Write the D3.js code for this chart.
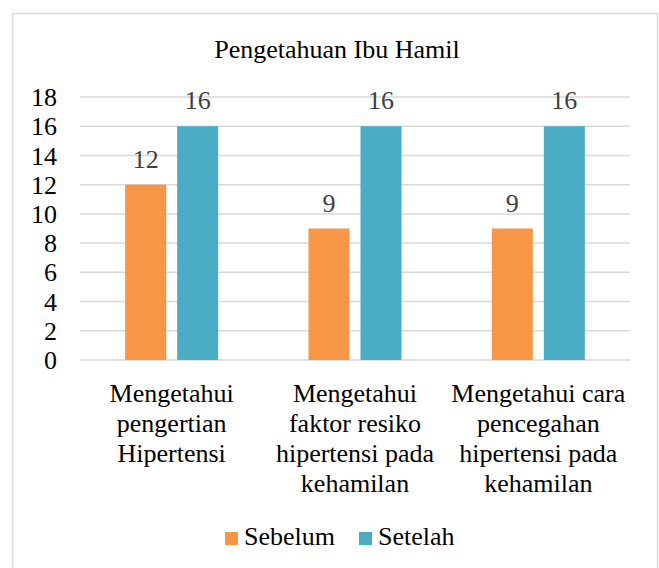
<!DOCTYPE html>
<html>
<head>
<meta charset="utf-8">
<script src="https://cdn.jsdelivr.net/npm/d3@7"></script>
</head>
<body style="margin:0">
<svg id="chart" width="659" height="568" font-family="Liberation Serif, Times New Roman, serif"></svg>
<script>
// data
const categories = [
  ["Mengetahui", "pengertian", "Hipertensi"],
  ["Mengetahui", "faktor resiko", "hipertensi pada", "kehamilan"],
  ["Mengetahui cara", "pencegahan", "hipertensi pada", "kehamilan"]
];
const seriesNames = ["Sebelum", "Setelah"];
const sebelum = [12, 9, 9];
const setelah = [16, 16, 16];
const yTicks = [0, 2, 4, 6, 8, 10, 12, 14, 16, 18];
const colors = ["#F79646", "#4BACC6"];

const FONT = "Liberation Serif, Times New Roman, serif";
const FS = "26px";

const W = 659, H = 568;
const margins = {top: 97, right: 29, bottom: 208, left: 80};
const width = W - margins.left - margins.right;
const height = H - margins.top - margins.bottom;

const svg = d3.select("#chart");

// outer chart border
svg.append("rect")
  .attr("x", 12.5).attr("y", 13.5)
  .attr("width", 645).attr("height", 570)
  .attr("fill", "none")
  .attr("stroke", "#d9d9d9")
  .attr("stroke-width", 1.5);

svg.append("text")
  .attr("x", 337)
  .attr("y", 58)
  .attr("text-anchor", "middle")
  .attr("font-family", FONT)
  .attr("font-size", FS)
  .attr("fill", "#000")
  .text("Pengetahuan Ibu Hamil");

const g = svg.append("g")
  .attr("transform", `translate(${margins.left}, ${margins.top})`);

const catIdx = d3.range(categories.length);

const x0 = d3.scaleBand()
  .domain(catIdx)
  .range([0, width])
  .padding(0);

const x1 = d3.scaleBand()
  .domain(seriesNames)
  .range([0, x0.bandwidth()])
  .paddingInner(0.2115)
  .paddingOuter(0.8686);

const y = d3.scaleLinear()
  .domain([0, 18])
  .range([height, 0]);

// gridlines
g.append("g")
  .selectAll("line")
  .data(yTicks)
  .join("line")
    .attr("x1", 0)
    .attr("x2", width)
    .attr("y1", d => y(d))
    .attr("y2", d => y(d))
    .attr("stroke", "#d9d9d9")
    .attr("stroke-width", 1.5);

// y axis labels
const yAxis = g.append("g")
  .attr("transform", "translate(-23,0)")
  .call(d3.axisLeft(y).tickValues(yTicks).tickSize(0).tickPadding(0))
  .attr("font-family", FONT)
  .attr("font-size", FS);
yAxis.select(".domain").remove();
yAxis.selectAll("text")
  .attr("dy", "0.33em")
  .attr("fill", "#000");

// bars
const rows = catIdx.map(i => ({i, values: [sebelum[i], setelah[i]]}));

const groups = g.append("g")
  .selectAll("g")
  .data(rows)
  .join("g")
    .attr("transform", d => `translate(${x0(d.i)},0)`);

groups.selectAll("rect")
  .data(d => d.values.map((v, k) => ({name: seriesNames[k], value: v, k})))
  .join("rect")
    .attr("x", d => x1(d.name))
    .attr("y", d => y(d.value))
    .attr("width", x1.bandwidth())
    .attr("height", d => height - y(d.value))
    .attr("fill", d => colors[d.k]);

groups.selectAll("text.val")
  .data(d => d.values.map((v, k) => ({name: seriesNames[k], value: v, k})))
  .join("text")
    .attr("class", "val")
    .attr("x", d => x1(d.name) + x1.bandwidth() / 2)
    .attr("y", d => y(d.value) - 17)
    .attr("text-anchor", "middle")
    .attr("font-family", FONT)
    .attr("font-size", FS)
    .attr("fill", "#404040")
    .text(d => d.value);

// category labels
const catLabels = g.append("g")
  .selectAll("text")
  .data(rows)
  .join("text")
    .attr("x", d => x0(d.i) + x0.bandwidth() / 2)
    .attr("y", height + 42)
    .attr("text-anchor", "middle")
    .attr("font-family", FONT)
    .attr("font-size", FS)
    .attr("fill", "#000");

catLabels.selectAll("tspan")
  .data(d => categories[d.i])
  .join("tspan")
    .attr("x", function() { return d3.select(this.parentNode).attr("x"); })
    .attr("dy", (d, k) => k === 0 ? 0 : 30)
    .text(d => d);

// legend
const legend = svg.append("g")
  .attr("transform", "translate(225, 532)");

const legendX = [0, 134];
const items = legend.selectAll("g")
  .data(seriesNames)
  .join("g")
    .attr("transform", (d, k) => `translate(${legendX[k]},0)`);

items.append("rect")
  .attr("width", 13)
  .attr("height", 13)
  .attr("fill", (d, k) => colors[k]);

items.append("text")
  .attr("x", 19)
  .attr("y", 13)
  .attr("font-family", FONT)
  .attr("font-size", FS)
  .attr("fill", "#000")
  .text(d => d);
</script>
</body>
</html>
